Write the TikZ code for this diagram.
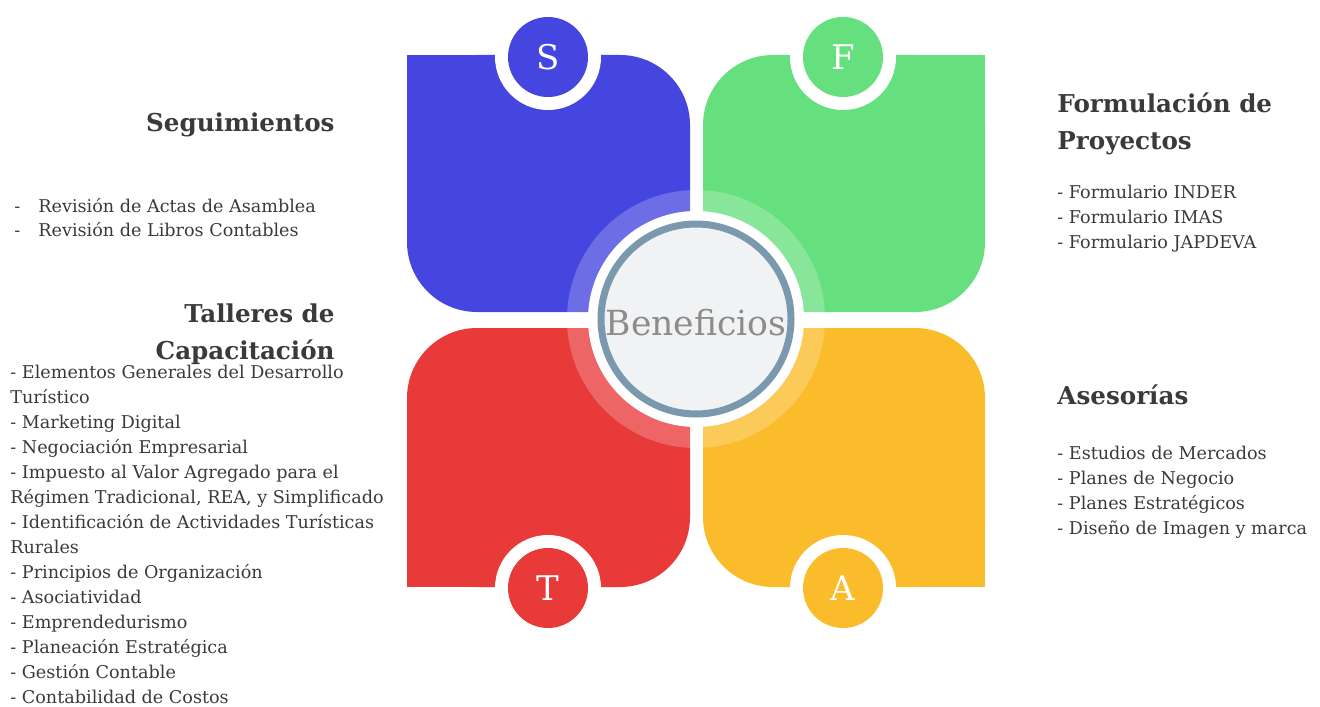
\documentclass[tikz,border=0pt]{standalone}
\usepackage{fontspec}
\setmainfont{DejaVu Serif}
\usetikzlibrary{positioning}
\definecolor{sblue}{HTML}{4545E0}
\definecolor{fgreen}{HTML}{66E07E}
\definecolor{tred}{HTML}{E93A3A}
\definecolor{ayellow}{HTML}{FBBC2B}
\definecolor{ringgray}{HTML}{7A98AE}
\definecolor{hubfill}{HTML}{F1F2F4}
\definecolor{benefgray}{HTML}{8C8C8C}
\definecolor{txtgray}{HTML}{3A3A3A}
\tikzset{petal/.style = {rounded corners=35pt}}
\tikzset{halo/.style = {fill=white, circle, inner sep=0, minimum size=53pt}}
\tikzset{badge/.style = {circle, inner sep=0, minimum size=40pt, text=white, font=\fontsize{17}{17}\selectfont}}
\tikzset{head/.style = {text=txtgray, font=\bfseries\fontsize{12.3}{18.5}\selectfont, inner sep=0}}
\tikzset{items/.style = {text=txtgray, font=\fontsize{8.8}{12.5}\selectfont, inner sep=0, align=left, anchor=base west}}

\begin{document}
\begin{tikzpicture}[x=0.5pt, y=-0.5pt]
    \useasboundingbox (0, 0) rectangle (1320, 706);

    % four petals, outer corner left square
    \fill [sblue, petal] (407, 55) rectangle (690, 312);
    \fill [sblue] (407, 55) rectangle (490, 140);
    \fill [fgreen, petal] (703, 55) rectangle (985, 312);
    \fill [fgreen] (902, 55) rectangle (985, 140);
    \fill [tred, petal] (407, 328) rectangle (690, 587);
    \fill [tred] (407, 502) rectangle (490, 587);
    \fill [ayellow, petal] (703, 328) rectangle (985, 587);
    \fill [ayellow] (902, 502) rectangle (985, 587);

    % hub
    \fill [white, opacity=0.22] (696, 319) circle (129);
    \fill [white] (696, 319) circle (108);
    \draw [ringgray, line width=3.5pt, fill=hubfill] (696, 319) circle (95);
    \node [anchor=base, inner sep=0, text=benefgray, font=\fontsize{17.3}{17.3}\selectfont] (benef) at (696, 335) {Beneficios};

    % letter badges
    \node [halo] (sh) at (548, 57) {};
    \node [badge, fill=sblue] (s) at (548, 57) {S};
    \node [halo] (fh) at (843, 57) {};
    \node [badge, fill=fgreen] (f) at (843, 57) {F};
    \node [halo] (th) at (548, 588) {};
    \node [badge, fill=tred] (t) at (548, 588) {T};
    \node [halo] (ah) at (843, 588) {};
    \node [badge, fill=ayellow] (a) at (843, 588) {A};

    % left column (base of a multi-line node is its last line)
    \node [head, anchor=base east] (seg) at (335, 131) {Seguimientos};
    \node [items] (segitems) at (14, 236) {\makebox[12pt][l]{-}Revisión de Actas de Asamblea\\[-0.5pt]
      \makebox[12pt][l]{-}Revisión de Libros Contables};
    \node [head, align=right, anchor=base east] (taller) at (335, 359) {Talleres de\\Capacitación};
    \node [items] (talleritems) at (10, 703) {- Elementos Generales del Desarrollo\\
      Turístico\\
      - Marketing Digital\\
      - Negociación Empresarial\\
      - Impuesto al Valor Agregado para el\\
      Régimen Tradicional, REA, y Simplificado\\
      - Identificación de Actividades Turísticas\\
      Rurales\\
      - Principios de Organización\\
      - Asociatividad\\
      - Emprendedurismo\\
      - Planeación Estratégica\\
      - Gestión Contable\\
      - Contabilidad de Costos};

    % right column
    \node [head, align=left, anchor=base west] (formu) at (1057, 149) {Formulación de\\Proyectos};
    \node [items] (formuitems) at (1057, 248) {- Formulario INDER\\
      - Formulario IMAS\\
      - Formulario JAPDEVA};
    \node [head, anchor=base west] (ases) at (1057, 404) {Asesorías};
    \node [items] (asesitems) at (1057, 534) {- Estudios de Mercados\\
      - Planes de Negocio\\
      - Planes Estratégicos\\
      - Diseño de Imagen y marca};
  \end{tikzpicture}
\end{document}
